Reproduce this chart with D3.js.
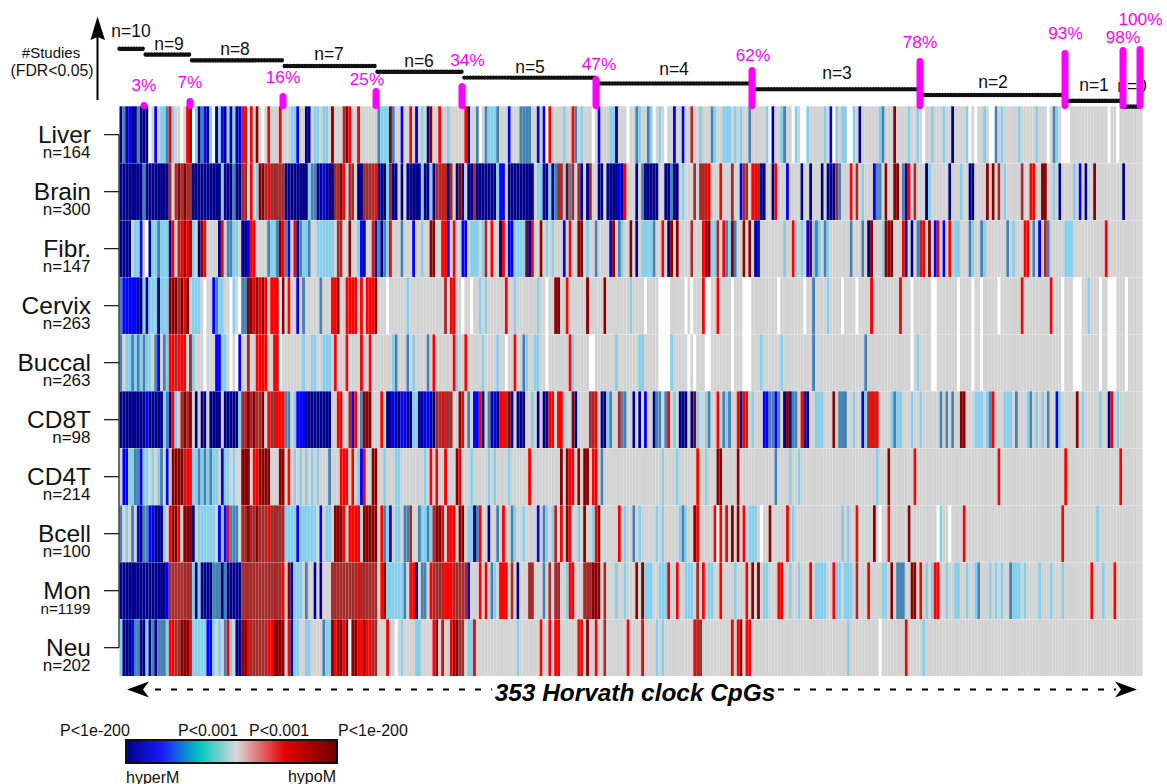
<!DOCTYPE html>
<html>
<head>
<meta charset="utf-8">
<script src="https://cdn.jsdelivr.net/npm/d3@7"></script>
<style>
  html, body { margin: 0; padding: 0; background: #fff; }
  text { font-family: "Liberation Sans", Arial, sans-serif; }
</style>
</head>
<body>
<div id="chart"></div>
<script>
// 353 CpGs, one string per tissue. token = level + column (or column range), anything not listed is "G" (not significant)
const liver = "N0 S1 N2 B3 N4-5 S6 N7-9 W10 B12 L14-15 S16 R17 L18 W21 R23 D24 W25 L26 N27 S28 B29 N30 L31 W32 N33 L34 B35 N36 L37 N38 L39 N40 B41 M42 R43 W44 R45 D47 W49 R51 R55 L59-60 B61 N64-65 L67-68 L70-71 D73 M77 D78 R79 R82 S89 L90-92 D93 S94 B97 R100 B102 L104 N106 D107 R110 L113 R119 N120 S123 W124 S126 L127-129 S130 B134 S138-141 B144 B146 W147 R148 L153 R156 S157 L159 W163 B165 L169-170 N171 W175 S178 L179 S182 L183 W184 L186 W188 B191 B194 M197 L200 S204 L205 L208-210 L212 L214 S217 L223 W224 N225 L228 S229 W232 L233 W235-236 L237 L243 B245 W246 L247 L249-250 W251-252 L253 N255 L262 S263 D267 L272 L275 W277 L280 L284 N287 L292 W293 W295 L298 W300-301 S302 L304 L310 L316 W320 S322 L323 W325-327 W341 W344";
const brain = "N0-7 S8 N9-16 M17 M19-24 D20 D22 N25-34 L35 N36-38 S39 N40-41 M42-43 R45 L47 D48-49 M50 R51 M52-56 N57-64 L65 S66-67 N68-69 B70 N71-73 M74-75 D76 R77 M79-80 N82-83 M84-87 R88 N89-91 L92 M93 N94-95 N97 N99-103 L104 N105-106 L107 N108 M109-110 R111 M112 N113 M114 N116 D117 N118 N120-121 M122 N123-129 L130 B131-132 N134-142 L144-145 N146-147 L148 N149 S150 M151-152 L153 D154 S155 M156 M158 N159 N161 M162 N165-166 N168-171 B172 N173 R174 N178 S180 N181-185 N188-189 S190 N191-192 L194 M198 M200-201 R202-203 R207 M211 B214 M215-216 R218-219 M220 N221-222 N225 R226 B230 N235 N238 N242 N244-246 M247 S248 R252 M254 L256 B260 S261-262 D264 D267-268 S270 N271 R272 M274 N278 L279 N286 L290 N293-294 D299 D301 M303 L305 M311 R314-315 D318-319 L322 N324 L329 B331 N333 D336 N346";
const fibr = "N0-3 L5-6 B7 W9 N10 L11-12 S13 L14-16 N17 R18 M20 R21 D22-24 R23 L25 N27 D28 R29 N34 R35 S37-38 L39-40 N42-43 B44 R45-46 S51 L52-53 S54 D55 R56 S57 B58 R60 N61 S62 L63-64 S65 L68-73 M75-76 D79 L82 B83 N84 R87 N88 S89 N90 S91 L92 R93 S97 B101 L104 D107-108 R111-112 B113 R115 B118-119 L121-123 L125 M126 R128 N131 R132 B134-135 L136-139 D140 N141 R142 D145 L147 L149 B153 R155 D158-159 L161 S164 B169 D170 S172 L173 D176 N178 L180-183 S184 R187 N189 D190 D192 M197 R201 D202-203 L204-205 M206 R208 S209 L210 D211 S212 D215 D217 N219 B220 L229 R232 L233 L235 B237 D238 L239 S240 L241 S243 L244 S252 S256 N258 D259 L263 D264-266 R270 N271 N273 S275 M276 R277 D279 B281 R282 B284 R286 L288-289 S293 L294 S297 L298 S306 L308 R312-313 S315 B317 M319 S320 L326-328 R340";
const cervix = "S0 B1-5 N6-7 L8 N9 L10-12 N13 L14-16 D17-19 M20 D21 R22 D23 L25-27 W29 B32 S33 L34-35 W38 L39 W41 S42-43 D44-45 R46 D47 R48 D49 R50 R52-54 W55 D56 R58 B61 S63 S69 R73-74 D75 R78-81 R83 R85-87 D88 W92 L99 M112 R114-115 W118 W121 L124 L126 R133 L136 L144 W147 D150-151 R154 D161 D167 L176 W181 W186-189 W195 W197 R201 W202-203 R206 W211 W215-217 W227 W236 S239 L244 W249 W254 R259 R269 W273 W280-281 W289 W294 W297 W303 R311 R321 W325 W329-331 L334 W338 W341-343 W347";
const buccal = "S0 L2-3 S4 L5 S6 L7 S8 L9-10 S12 B13 S15 L16 R17-18 M19 R20-22 M24 L25 W29 B33-34 L35-36 W38 W40 B41 M44 R47-50 R53-54 W55 L63 L66-67 L70-72 R74 R78 R83 R86 L94 S95 S99 L101 S106 R108 R115 L116 R119 L125 L130 W133 R136 S139 L140 L143-144 W147 R155 L156 W162-163 L171 L179-180 W186-189 L190 W196 W198 W202-203 W211 W215-217 L221 L228 S239 S257 W273 L275 W280-281 W289 W294 W297 W325 W329-331 W338 W341-343 W347";
const cd8t = "N0-8 B9 N10-14 L15 S16 N17 R18 L19 M21 D22 M23 D24 N26 N28-29 N31-34 N36-40 L41 M42-43 D44 M45 D46 M47-48 D49 R51 M52-53 R54-56 S57-58 L60 B61-63 N64-72 R75-76 M79 B80 R81 S83 D84-86 R90 N92-93 B94 N95-96 B97-98 N99-100 L101-102 N103-104 B105-106 N107-108 M109-110 R111 M112-114 D117 R118 S120 B122-123 R124 N125 S127 N128 B129 N130 R131-132 M133 D134 N135 N137-139 L142 N144 N146-147 R148-149 R151-152 L153 D156 N157 M162-163 R164 N166-167 L168 S169 M172 S173-174 N177 N179 B181 N184 S185-186 S188 R189 L191 N193-195 N197 D198 L199 L202 S203 R206 S208 L209 S210 R213 N214 R215 M216 L218 B222-223 S224-225 B226 S227 N229 D230 N231 S232-233 R235 N236-237 L240-242 D246 S248-250 L253 B256 L257 M258 R259 M260 R261 L266 S267 L268-269 L273 L276 S283 S285 S287 D290-291 L295-297 L299 S300 R301 L305-307 S309 L313 S314 L316 L318 S320 B323 L324 D330 L332 L338 N341 R342 L344";
const cd4t = "B1-2 L3-4 S5-6 B7 L8-9 L11 L13 S14 B16 D18-21 M22 R23-24 L25-26 S27 L28 S29 L30 S31 L32-33 B35 L36-37 L39 D42-44 R46-47 D48-51 D55-56 R58 L60 L62 L64 L66 L68 S72 R76-78 R80 L82 B83 R84 D87-88 L91 L95-96 L105 R107 R109 R112 D116 R117 L121 L127 L129 L134 R141 D152 D154 R155-156 D158 D160-161 R163-164 S166 L187 L192 R199 L202 D206-207 D213 S226 L231 L234 L261 D265 R274 R303 R326 R345";
const bcell = "S0 L2 S4 B6 N7 S8-9 B10-11 N12-14 L15 R17 D18-19 R20 D22-24 N25 L27-32 B34 L35 B36 R37 S38-40 M42-50 D44 D47 R51 M52-56 L57-60 B61 L62-67 B69 L71-72 D74-76 R77 R79-82 D84-88 R90 S91 L92 B93 L95-96 S98-99 M100 S103 L104-105 S106 L107 M108 D109-110 R111 R113-115 D117-118 L120-121 N122 S123 R124 N127 S130 R132 S135 L136 L139 B144 S146 L147 L149 M150 R152 D154 R155 L158 D160 L163 R164 D165 R172 L174 S177 L179 L185 L187 L193 S194 L195 D198 R199 R205 W206 R207 R209 D211 D213 R215 L217-219 W221 D224 R230 L232 L249 L251 R254 D260 W262 R265 D272 W282 L283 W286 R291 R325 L337";
const mon = "N0-15 B16 M17-24 L25 N26 L27 N28-31 S32-34 N35 S36 N37-41 M42-55 R56 D58 N59 L60-62 S64 N67 N69 M73-81 R82 M83-88 R90 D91 L92-97 S98 R100-101 N102 S104-105 R107 M108-111 R112-114 M115-119 B120 R124 R126 S128 L129 R131-133 M135 N137 M141-142 S146 M148 M150-151 L154 R155-156 M160-162 D163-165 M167 L171 L174 D178 D180 L181-183 L186-188 R189 R192 L195-197 M199 R201 L203-204 R207 L212 R216 D218 D220 L222-223 R227-228 L231 L234 R238 L240-243 R246 L247-248 L250-252 M254 R258 L263-264 D266 S268-270 D273-274 R276 L278 L280 R281-282 L285 L288-289 L292 L295 S296 L300 L302 L304 S307 L308-310 L312 L317 L321 L325 R335 L339 R343";
const neu = "L0 N1-3 B4 S5-6 N7-8 L9 N10 S11 N12 S13-15 L16 R17-18 M19-20 D21-23 R24 L25-29 B30-31 L32 L34 S36 R37 L38 N40-41 D42-43 R44 M45-50 R51-52 D53-56 R58 N59 L60-61 L64-65 S70 L71-72 D73-77 R74 R77 D78 W79 D80-81 R82-83 D84 R85-86 M87-88 R92 W95 L97 L102-103 R108 D109 R111 R114 D115-116 M117-118 L120-121 R122 L137 R145 R148 R150-151 R158-159 D161 R164 M167 R175 R180 L185 L187 R198 M199-200 R211 R213 D214 R216-217 L251 W262 R271 L277";

const tissues = ["Liver", "Brain", "Fibr.", "Cervix", "Buccal", "CD8T", "CD4T", "Bcell", "Mon", "Neu"];
const sampleSizes = [164, 300, 147, 263, 263, 98, 214, 100, 1199, 202];
const tissueCells = [liver, brain, fibr, cervix, buccal, cd8t, cd4t, bcell, mon, neu];

const levels = ["N", "B", "S", "L", "G", "W", "R", "M", "D"];
const levelColors = ["#00008b", "#0000ff", "#4682b4", "#87ceeb", "#d3d3d3", "#ffffff", "#ff0000", "#a52a2a", "#8b0000"];

// #studies staircase: study count and last CpG (cumulative) of each step, then the cumulative %
const studyCounts = [10, 9, 8, 7, 6, 5, 4, 3, 2, 1, 0];
const stepEnds = [9, 25, 57, 89, 119, 165, 219, 276, 326, 346, 353];
const percents = [3, 7, 16, 25, 34, 47, 62, 78, 93, 98, 100];

const legendStops = [0, 0.17, 0.35, 0.525, 0.75, 1];
const legendColors = ["#00008b", "#1a1aff", "#00c8c0", "#d8d8d8", "#e60000", "#6e0000"];
const legendLabels = ["P<1e-200", "P<0.001", "P<0.001", "P<1e-200"];

const nCpG = 353;
const width = 1167, height = 784;
const heat = {left: 119.5, right: 1142.5, top: 106.3, bottom: 676};

const svg = d3.select("#chart").append("svg")
    .attr("width", width)
    .attr("height", height)
    .style("display", "block");

// the source figure is a soft raster, a very small blur gets the stripes closer to it
const defs = svg.append("defs");
defs.append("filter").attr("id", "soft")
    .attr("x", "-1%").attr("y", "-1%").attr("width", "102%").attr("height", "102%")
    .append("feGaussianBlur").attr("stdDeviation", 0.45);

const x = d3.scaleBand().domain(d3.range(nCpG)).range([heat.left, heat.right]);
const y = d3.scaleBand().domain(tissues).range([heat.top, heat.bottom]).paddingInner(0.006);
const color = d3.scaleOrdinal().domain(levels).range(levelColors);
const yStudies = d3.scaleLinear().domain([0, 10]).range([106.5, 48.7]);

function parseCells(str) {
    const cells = new Array(nCpG).fill("G");
    str.split(" ").forEach(tok => {
        const m = tok.match(/^([A-Z])(\d+)(?:-(\d+))?$/);
        const from = +m[2], to = m[3] ? +m[3] : from;
        for (let i = from; i <= to; i++) cells[i] = m[1];
    });
    return cells;
}

// heatmap
svg.append("g")
    .attr("filter", "url(#soft)")
    .selectAll("g")
    .data(tissues)
    .join("g")
    .attr("transform", d => `translate(0, ${y(d)})`)
    .selectAll("rect")
    .data((d, i) => parseCells(tissueCells[i]))
    .join("rect")
    .attr("x", (d, i) => x(i))
    .attr("width", x.bandwidth())
    .attr("height", y.bandwidth())
    .attr("fill", d => color(d));

// left axis, only from first to last tick like base R
const yAxis = svg.append("g")
    .attr("transform", `translate(${heat.left - 0.5}, 0)`)
    .call(d3.axisLeft(y).tickSize(15).tickFormat(""));
yAxis.select(".domain").attr("d", `M0,${y(tissues[0]) + y.bandwidth() / 2}V${y("Neu") + y.bandwidth() / 2}`)
    .attr("stroke", "#222").attr("stroke-width", 1.3);
yAxis.selectAll(".tick line").attr("stroke", "#222").attr("stroke-width", 1.3);

svg.append("g").selectAll("text")
    .data(tissues)
    .join("text")
    .attr("x", 91)
    .attr("y", d => y(d) + 37)
    .attr("text-anchor", "end")
    .attr("font-size", 24.5)
    .attr("fill", "#111")
    .text(d => d);

svg.append("g").selectAll("text")
    .data(sampleSizes)
    .join("text")
    .attr("x", 90.5)
    .attr("y", (d, i) => y(tissues[i]) + 52)
    .attr("text-anchor", "end")
    .attr("font-size", d => d > 999 ? 15.2 : 17)
    .attr("fill", "#111")
    .text(d => "n=" + d);

// staircase
const steps = studyCounts.map((n, i) => ({n: n, from: i ? stepEnds[i - 1] : 0, to: stepEnds[i]}));
svg.append("g").selectAll("line")
    .data(steps)
    .join("line")
    .attr("x1", d => x(d.from))
    .attr("x2", d => d.to < nCpG ? x(d.to) : heat.right)
    .attr("y1", d => yStudies(d.n))
    .attr("y2", d => yStudies(d.n))
    .attr("stroke", "#111")
    .attr("stroke-width", 4.4)
    .attr("stroke-linecap", "round")
    .attr("stroke-dasharray", "0 2.9");

const stepLabels = [[131, 36.7], [169, 50], [235, 55], [329, 59.5], [419, 67.3], [530, 73], [674, 75], [837, 79], [993, 88], [1094, 91], [1132, 91.7]];
svg.append("g").selectAll("text")
    .data(steps)
    .join("text")
    .attr("x", (d, i) => stepLabels[i][0])
    .attr("y", (d, i) => stepLabels[i][1])
    .attr("text-anchor", "middle")
    .attr("font-size", 17.5)
    .attr("fill", "#111")
    .text(d => "n=" + d.n);

// magenta % markers
const markerTops = [102, 98, 93, 88, 83, 76, 67, 58, 50, 47, 46];
const pctLabels = [[144, 91], [190, 88], [283, 83], [367, 85], [467.5, 66], [599, 70], [753, 61], [920, 47.5], [1065.5, 39], [1123, 43], [1140.5, 25]];
const markerX = [144, 190, 283, 376, 462, 596, 752, 920, 1065, 1123, 1140];

svg.append("g").selectAll("line")
    .data(percents)
    .join("line")
    .attr("x1", (d, i) => markerX[i])
    .attr("x2", (d, i) => markerX[i])
    .attr("y1", (d, i) => markerTops[i] + 3.5)
    .attr("y2", 105.5)
    .attr("stroke", "#ff00ff")
    .attr("stroke-width", 7)
    .attr("stroke-linecap", "round");

svg.append("g").selectAll("text")
    .data(percents)
    .join("text")
    .attr("x", (d, i) => pctLabels[i][0])
    .attr("y", (d, i) => pctLabels[i][1])
    .attr("text-anchor", "middle")
    .attr("font-size", 17.3)
    .attr("fill", "#ff00ff")
    .text(d => d + "%");

// #Studies arrow and caption
svg.append("line")
    .attr("x1", 97.5).attr("x2", 97.5)
    .attr("y1", 100).attr("y2", 34)
    .attr("stroke", "#000").attr("stroke-width", 2);
svg.append("path")
    .attr("d", "M97.5,16.5L105,40L97.5,37L90.5,40Z")
    .attr("fill", "#000");

svg.append("text").attr("x", 51).attr("y", 57.5).attr("text-anchor", "middle")
    .attr("font-size", 15).attr("fill", "#111").text("#Studies");
svg.append("text").attr("x", 52).attr("y", 76).attr("text-anchor", "middle")
    .attr("font-size", 15.8).attr("fill", "#111").text("(FDR<0.05)");

// bottom double arrow
const arrowY = 689.5;
[[155, 492], [778, 1116]].forEach(s => {
    svg.append("line")
        .attr("x1", s[0]).attr("x2", s[1])
        .attr("y1", arrowY).attr("y2", arrowY)
        .attr("stroke", "#000").attr("stroke-width", 2)
        .attr("stroke-dasharray", "6 10");
});
svg.append("path")
    .attr("d", `M127,${arrowY}L149,${arrowY - 8}L143,${arrowY}L149,${arrowY + 8}Z`)
    .attr("fill", "#000");
svg.append("path")
    .attr("d", `M1137,${arrowY}L1115,${arrowY - 8}L1121,${arrowY}L1115,${arrowY + 8}Z`)
    .attr("fill", "#000");
svg.append("text")
    .attr("x", 635).attr("y", 701)
    .attr("text-anchor", "middle")
    .attr("font-size", 24.4)
    .attr("font-weight", "bold")
    .attr("font-style", "italic")
    .attr("fill", "#000")
    .text("353 Horvath clock CpGs");

// colour key
const grad = defs.append("linearGradient").attr("id", "keyGrad");
grad.selectAll("stop")
    .data(legendStops)
    .join("stop")
    .attr("offset", d => d)
    .attr("stop-color", (d, i) => legendColors[i]);

svg.append("rect")
    .attr("x", 126).attr("y", 740)
    .attr("width", 211).attr("height", 23)
    .attr("fill", "url(#keyGrad)")
    .attr("stroke", "#111")
    .attr("stroke-width", 2);

const legendX = [95, 208, 279, 373];
svg.append("g").selectAll("text")
    .data(legendLabels)
    .join("text")
    .attr("x", (d, i) => legendX[i])
    .attr("y", 735.5)
    .attr("text-anchor", "middle")
    .attr("font-size", 16)
    .attr("fill", "#111")
    .text(d => d);

svg.append("text").attr("x", 126).attr("y", 782.5).attr("font-size", 16).attr("fill", "#111").text("hyperM");
svg.append("text").attr("x", 336).attr("y", 781.5).attr("text-anchor", "end").attr("font-size", 16).attr("fill", "#111").text("hypoM");
</script>
</body>
</html>
